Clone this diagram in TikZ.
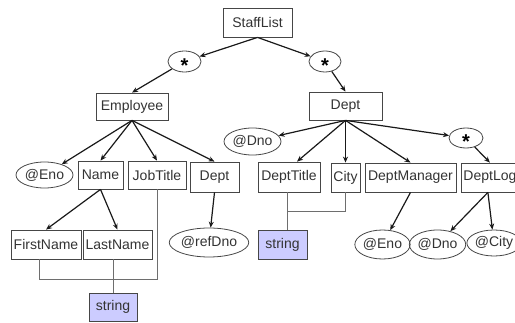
\documentclass[tikz,border=0pt]{standalone}
\usepackage{fontspec}
\setmainfont{Liberation Sans}
\usetikzlibrary{arrows.meta,shapes.geometric,calc}
\definecolor{boxc}{RGB}{70,70,70}
\definecolor{linec}{RGB}{25,25,25}
\definecolor{graylc}{RGB}{110,110,110}
\definecolor{lav}{RGB}{204,204,255}
\begin{document}
\begin{tikzpicture}[x=1pt,y=-1pt,
 lbl/.style={font=\fontsize{14}{16}\selectfont, text=black!80},
 bx/.style 2 args={draw=boxc, line width=0.8pt, inner sep=0pt, minimum width=#1pt, minimum height=#2pt, lbl},
 el/.style 2 args={ellipse, draw=boxc, line width=0.8pt, inner sep=0pt, minimum width=#1pt, minimum height=#2pt, lbl},
 strbox/.style 2 args={bx={#1}{#2}, fill=lav},
 arr/.style={draw=linec, line width=1.2pt, -{Stealth[length=6pt,width=5pt]}},
 conn/.style={draw=graylc, line width=0.8pt},
 startxt/.style={font=\fontsize{20}{20}\selectfont\bfseries, inner sep=0pt, yshift=-4pt}]
\useasboundingbox (0,0) rectangle (515,323);
\clip (0,0) rectangle (515,323);
% top
\node[bx={69}{29}] (staff) at (257.5,22.5) {StaffList};
\node[el={33}{21}] (s1) at (184.5,61.5) {};
\node[startxt] (s1t) at (s1) {*};
\node[el={32}{21}] (s2) at (325,61.5) {};
\node[startxt] (s2t) at (s2) {*};
\node[bx={72}{27}] (emp) at (132,106.5) {Employee};
\node[bx={73}{28}] (dept) at (345.5,106) {Dept};
\node[el={57}{27}] (dnoT) at (252.5,141.5) {@Dno};
\node[el={34}{20}] (s3) at (466,138) {};
\node[startxt] (s3t) at (s3) {*};
% middle row
\node[el={57}{26}] (enoL) at (44.5,175) {@Eno};
\node[bx={45}{28}] (name) at (100.5,175) {Name};
\node[bx={58}{28}] (job) at (157,175) {JobTitle};
\node[bx={49}{30}] (deptL) at (214.5,177) {Dept};
\node[bx={62}{30}] (dtitle) at (289,177) {DeptTitle};
\node[bx={29}{29}] (city) at (345.5,177.5) {City};
\node[bx={91}{29}] (dman) at (410.5,177.5) {DeptManager};
\node[bx={57}{29}, anchor=west] (dlog) at (461,177.5) {DeptLog};
% lower row
\node[bx={70}{29}] (first) at (46,244.5) {FirstName};
\node[bx={69}{29}] (last) at (117.5,244.5) {LastName};
\node[el={68}{29}] (refdno) at (209,242.5) {@refDno};
\node[strbox={49}{29}] (sR) at (282.5,244.5) {string};
\node[el={47}{29}] (enoR) at (382.5,244.5) {@Eno};
\node[el={43}{29}] (dnoR) at (437.5,244.5) {@Dno};
\node[el={54}{26}] (cityR) at (494,243) {@City};
\node[strbox={48}{28}] (sL) at (113,307) {string};
% arrows
\draw[arr] (staff.south) -- (s1);
\draw[arr] (staff.south) -- (s2);
\draw[arr] (s1) -- (emp.north);
\draw[arr] (s2) -- (dept.north);
\draw[arr] (emp.south) -- (enoL);
\draw[arr] (emp.south) -- (name.north);
\draw[arr] (emp.south) -- (job.north);
\draw[arr] (emp.south) -- (deptL.north);
\draw[arr] (dept.south) -- (dnoT);
\draw[arr] (dept.south) -- ([xshift=8pt]dtitle.north);
\draw[arr] (dept.south) -- (city.north);
\draw[arr] (dept.south) -- (dman.north);
\draw[arr] (dept.south) -- (s3);
\draw[arr] (s3) -- (dlog.north);
\draw[arr] (name.south) -- (first.north);
\draw[arr] (name.south) -- (last.north);
\draw[arr] (deptL.south) -- (refdno);
\draw[arr] (dman.south) -- (enoR);
\draw[arr] ([xshift=-2pt]dlog.south) -- (dnoR);
\draw[arr] ([xshift=-2pt]dlog.south) -- (cityR);
% plain connectors
\coordinate (j1) at (39,279);
\draw[conn] (first.south -| j1) -- (j1) -| (job.south);
\draw[conn] (last.south -| sL.north) -- (sL.north);
\coordinate (j2) at (287,211);
\draw[conn] (dtitle.south -| j2) -- (sR.north -| j2);
\draw[conn] (j2) -| (city.south);
\end{tikzpicture}
\end{document}
